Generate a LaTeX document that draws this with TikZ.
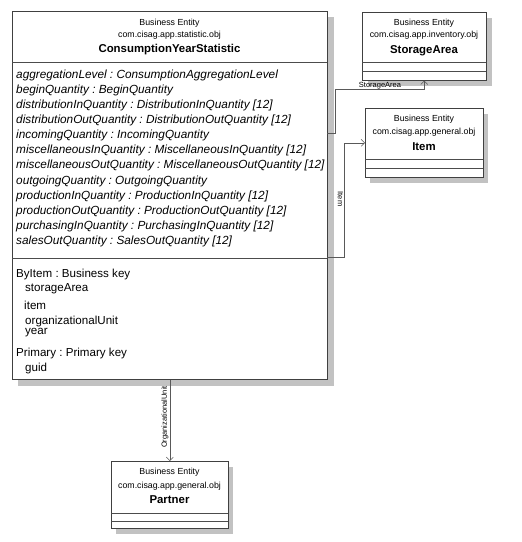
\documentclass[tikz,border=0pt]{standalone}
\usepackage{fontspec}
\setmainfont{Liberation Sans}
\usetikzlibrary{arrows.meta}
\frenchspacing
\begin{document}
\begin{tikzpicture}[x=1pt,y=-1pt,
  shadowbox/.style={fill=black!24, draw=none},
  box/.style={draw=black!75, fill=white, line width=0.6pt, inner sep=0pt, anchor=north west},
  sep/.style={draw=black!70, line width=0.5pt},
  hdr/.style={font=\fontsize{8.8}{10}\selectfont, inner sep=0pt},
  ttl/.style={font=\fontsize{11.4}{13}\selectfont\bfseries, inner sep=0pt},
  attr/.style={font=\fontsize{11.8}{13}\selectfont\itshape, anchor=west, inner sep=0pt},
  keyt/.style={font=\fontsize{11.6}{13}\selectfont, anchor=west, inner sep=0pt},
  conn/.style={draw=black!65, line width=0.5pt},
  tip/.style={-{Straight Barb[length=3.5pt,width=7pt]}},
  lbl/.style={font=\fontsize{7.5}{8}\selectfont, inner sep=0.5pt},
]
\useasboundingbox (0,0) rectangle (522,542);

% ---------- main box ----------
\fill[shadowbox] (18,17) rectangle (334,386);
\node[box, minimum width=315pt, minimum height=368pt] (main) at (12,11) {};
\draw[sep] (12,62) -- (327,62);
\draw[sep] (12,258) -- (327,258);
\node[hdr] (mh1) at (169.5,23) {Business Entity};
\node[hdr] (mh2) at (169.5,35.5) {com.cisag.app.statistic.obj};
\node[ttl] (mh3) at (169.5,50) {ConsumptionYearStatistic};

\node[attr] (a1) at (16,75) {aggregationLevel : ConsumptionAggregationLevel};
\node[attr] (a2) at (16,90) {beginQuantity : BeginQuantity};
\node[attr] (a3) at (16,105) {distributionInQuantity : DistributionInQuantity [12]};
\node[attr] (a4) at (16,120) {distributionOutQuantity : DistributionOutQuantity [12]};
\node[attr] (a5) at (16,135.5) {incomingQuantity : IncomingQuantity};
\node[attr] (a6) at (16,150.5) {miscellaneousInQuantity : MiscellaneousInQuantity [12]};
\node[attr] (a7) at (16,165.5) {miscellaneousOutQuantity : MiscellaneousOutQuantity [12]};
\node[attr] (a8) at (16,181) {outgoingQuantity : OutgoingQuantity};
\node[attr] (a9) at (16,196) {productionInQuantity : ProductionInQuantity [12]};
\node[attr] (a10) at (16,211) {productionOutQuantity : ProductionOutQuantity [12]};
\node[attr] (a11) at (16,226) {purchasingInQuantity : PurchasingInQuantity [12]};
\node[attr] (a12) at (16,241) {salesOutQuantity : SalesOutQuantity [12]};

\node[keyt] (k1) at (16,274) {ByItem : Business key};
\node[keyt] (k2) at (25,289) {storageArea};
\node[keyt] (k3) at (24,305) {item};
\node[keyt] (k4) at (25,321) {organizationalUnit};
\node[keyt] (k5) at (25,333) {year};
\node[keyt] (k6) at (16,353) {Primary : Primary key};
\node[keyt] (k7) at (25,368) {guid};

% ---------- StorageArea ----------
\fill[shadowbox] (368,18) rectangle (492,86);
\node[box, minimum width=124pt, minimum height=68pt] (sa) at (362,12) {};
\draw[sep] (362,62) -- (486,62);
\draw[sep] (362,71) -- (486,71);
\node[hdr] (sh1) at (424,23) {Business Entity};
\node[hdr] (sh2) at (424,35.5) {com.cisag.app.inventory.obj};
\node[ttl] (sh3) at (424,51) {StorageArea};

% ---------- Item ----------
\fill[shadowbox] (370,114) rectangle (488,183);
\node[box, minimum width=118pt, minimum height=69pt] (item) at (365,108) {};
\draw[sep] (365,159) -- (483,159);
\draw[sep] (365,168) -- (483,168);
\node[hdr] (ih1) at (424,119.5) {Business Entity};
\node[hdr] (ih2) at (424,132) {com.cisag.app.general.obj};
\node[ttl] (ih3) at (424,147) {Item};

% ---------- Partner ----------
\fill[shadowbox] (116,467) rectangle (233,534);
\node[box, minimum width=117pt, minimum height=67pt] (partner) at (111,461) {};
\draw[sep] (111,513) -- (228,513);
\draw[sep] (111,521) -- (228,521);
\node[hdr] (ph1) at (169.5,472) {Business Entity};
\node[hdr] (ph2) at (169.5,486.5) {com.cisag.app.general.obj};
\node[ttl] (ph3) at (169.5,500) {Partner};

% ---------- connectors ----------
\coordinate (s0) at (327,133);
\coordinate (s1) at (335,133);
\coordinate (s2) at (335,89);
\draw[conn,tip] (s0) -- (s1) -- (s2) -| (sa.south);
\node[lbl] (slab) at (380,85.5) {StorageArea};

\coordinate (i0) at (327,257);
\coordinate (i1) at (344,257);
\draw[conn,tip] (i0) -- (i1) |- (item.west);
\node[lbl, rotate=-90] (ilab) at (340.5,199) {Item};

\draw[conn,tip] (main.south) -- (partner.north);
\node[lbl, rotate=90] (olab) at (165,417) {OrganizationalUnit};
\end{tikzpicture}
\end{document}
